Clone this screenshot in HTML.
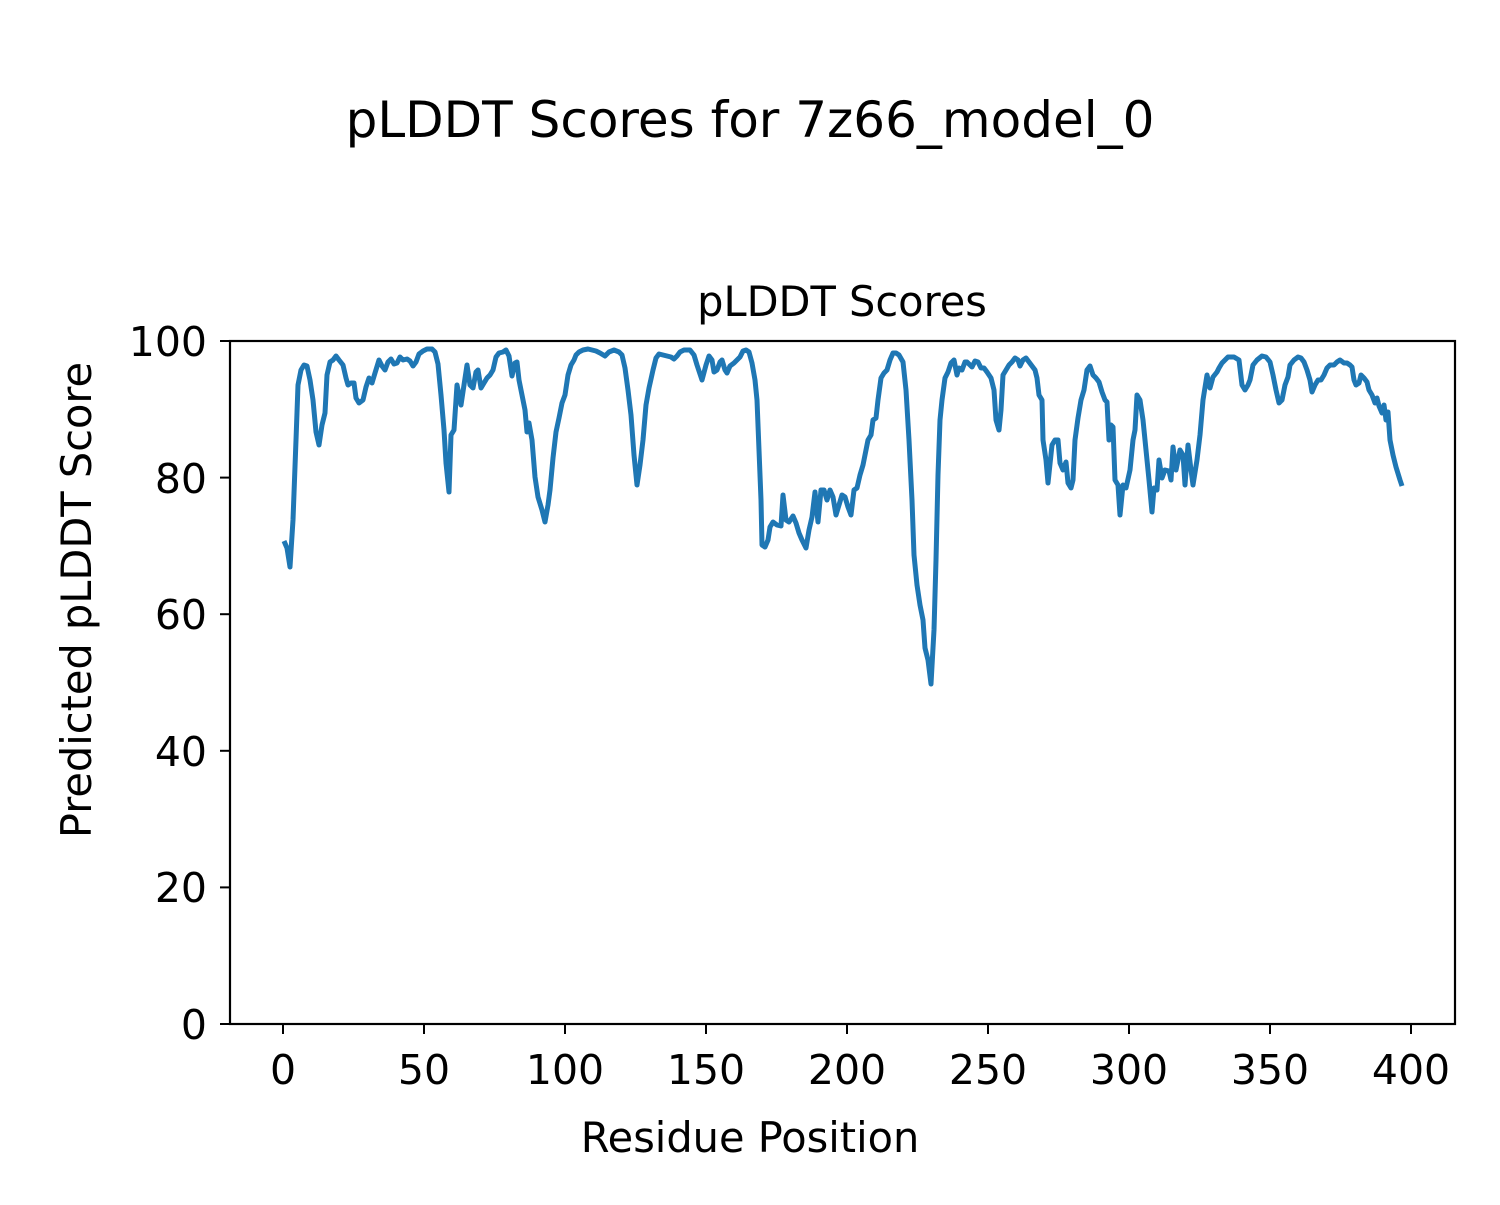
<!DOCTYPE html>
<html><head><meta charset="utf-8"><style>body{margin:0;background:#fff}</style></head><body>
<svg width="1500" height="1200" xmlns="http://www.w3.org/2000/svg" font-family="DejaVu Sans, Liberation Sans, sans-serif">
<rect width="1500" height="1200" fill="#fff"/>
<text x="750" y="137" font-size="50" text-anchor="middle">pLDDT Scores for 7z66_model_0</text>
<text x="842" y="316" font-size="41.5" text-anchor="middle">pLDDT Scores</text>
<polyline fill="none" stroke="#1f77b4" stroke-width="5" stroke-linejoin="round" points="284,541 287,548 290,567 293,520 296,440 298,385 301,370 304,365 307,366 310,380 313,400 316,432 319,445 322,425 325,413 327,375 330,362 333,360 336,356 339,360 343,365 346,378 348,385 351,383 354,383 356,398 359,403 363,400 366,387 369,378 372,383 375,373 379,360 382,366 385,370 388,362 391,359 394,364 397,363 400,357 403,360 407,359 410,361 413,366 416,362 419,354 423,351 427,349 432,349 435,352 438,364 441,395 444,430 446,463 449,492 451,435 454,430 457,385 459,395 461,405 464,385 467,365 470,385 473,388 476,372 478,370 481,388 484,383 487,378 490,375 493,370 496,357 499,353 503,352 506,350 509,356 512,376 515,363 517,362 519,380 522,395 525,410 527,432 529,423 532,440 535,477 538,497 542,510 545,522 548,505 550,490 553,458 556,432 559,418 562,403 565,395 568,375 571,365 574,360 576,355 579,352 583,350 588,349 592,350 596,351 600,353 605,356 609,352 614,350 619,352 622,355 625,368 628,390 631,415 634,455 637,485 640,465 643,440 646,405 649,388 653,370 656,358 659,354 663,355 667,356 671,357 674,359 677,356 680,352 684,350 690,350 694,355 697,365 702,380 706,365 709,356 712,360 714,372 717,370 720,362 722,360 725,370 727,373 730,366 734,363 737,360 740,357 743,351 746,350 749,352 752,363 755,380 757,400 759,450 761,500 762,545 765,547 768,540 770,527 773,522 777,525 781,526 783,495 786,520 789,522 793,516 796,523 799,533 802,540 806,548 809,530 812,517 815,492 818,522 821,490 824,490 827,500 830,490 833,497 836,515 839,505 842,495 845,497 848,507 851,515 854,490 857,488 860,475 863,465 866,450 868,440 871,435 873,420 876,418 878,400 881,378 884,373 887,370 890,360 893,353 896,353 899,355 903,362 906,390 909,440 912,500 914,555 917,585 920,605 923,620 925,648 928,660 931,684 934,630 936,560 938,475 940,420 942,400 945,378 948,372 951,363 954,360 957,375 959,368 962,370 965,362 967,362 970,365 972,367 975,361 978,362 981,368 984,368 987,372 991,378 994,390 996,420 999,430 1001,410 1003,375 1006,370 1009,365 1012,362 1015,358 1018,360 1020,366 1023,360 1026,358 1029,362 1032,366 1035,370 1037,378 1039,395 1042,400 1043,440 1046,460 1048,483 1052,445 1055,440 1058,440 1060,463 1063,470 1066,462 1068,483 1071,488 1073,480 1075,440 1078,418 1081,400 1084,390 1087,370 1090,366 1093,375 1096,378 1099,382 1102,392 1105,400 1107,402 1109,440 1111,425 1113,427 1115,480 1118,485 1120,515 1123,485 1126,488 1130,470 1133,440 1135,430 1137,395 1140,400 1143,420 1146,450 1149,480 1152,512 1154,488 1157,490 1159,460 1162,478 1165,470 1169,471 1171,480 1173,447 1176,470 1180,450 1183,455 1185,485 1188,445 1191,470 1193,485 1197,460 1200,435 1203,400 1207,375 1210,388 1213,377 1217,372 1219,368 1222,363 1225,360 1228,357 1234,357 1239,360 1242,385 1245,390 1248,385 1250,380 1253,365 1257,360 1262,356 1266,357 1270,362 1273,375 1276,390 1279,403 1282,400 1285,385 1288,377 1290,365 1294,360 1298,357 1301,358 1304,362 1307,370 1310,380 1312,392 1315,385 1318,380 1321,380 1324,375 1327,368 1330,365 1334,365 1337,362 1340,360 1344,363 1347,363 1350,365 1352,367 1354,380 1356,385 1359,383 1361,375 1364,378 1367,382 1369,390 1372,395 1375,403 1377,398 1379,406 1382,413 1384,405 1386,420 1388,412 1390,440 1393,455 1396,467 1400,480 1402,486"/>
<rect x="230" y="341" width="1225" height="683" fill="none" stroke="#000" stroke-width="2.2"/>
<g stroke="#000" stroke-width="2">
<line x1="220" y1="1024" x2="230" y2="1024"/><line x1="220" y1="887.4" x2="230" y2="887.4"/><line x1="220" y1="750.8" x2="230" y2="750.8"/><line x1="220" y1="614.2" x2="230" y2="614.2"/><line x1="220" y1="477.6" x2="230" y2="477.6"/><line x1="220" y1="341" x2="230" y2="341"/>
<line x1="283" y1="1024" x2="283" y2="1034"/><line x1="424" y1="1024" x2="424" y2="1034"/><line x1="565" y1="1024" x2="565" y2="1034"/><line x1="706" y1="1024" x2="706" y2="1034"/><line x1="847" y1="1024" x2="847" y2="1034"/><line x1="988" y1="1024" x2="988" y2="1034"/><line x1="1129" y1="1024" x2="1129" y2="1034"/><line x1="1270" y1="1024" x2="1270" y2="1034"/><line x1="1411" y1="1024" x2="1411" y2="1034"/>
</g>
<g font-size="41" text-anchor="end">
<text x="207" y="1039">0</text><text x="207" y="902">20</text><text x="207" y="766">40</text><text x="207" y="629">60</text><text x="207" y="493">80</text><text x="207" y="356">100</text>
</g>
<g font-size="41" text-anchor="middle">
<text x="283" y="1084">0</text><text x="424" y="1084">50</text><text x="565" y="1084">100</text><text x="706" y="1084">150</text><text x="847" y="1084">200</text><text x="988" y="1084">250</text><text x="1129" y="1084">300</text><text x="1270" y="1084">350</text><text x="1411" y="1084">400</text>
</g>
<text x="750" y="1152" font-size="41.5" text-anchor="middle">Residue Position</text>
<text transform="translate(91,600) rotate(-90)" font-size="41.5" text-anchor="middle">Predicted pLDDT Score</text>
</svg>
</body></html>
